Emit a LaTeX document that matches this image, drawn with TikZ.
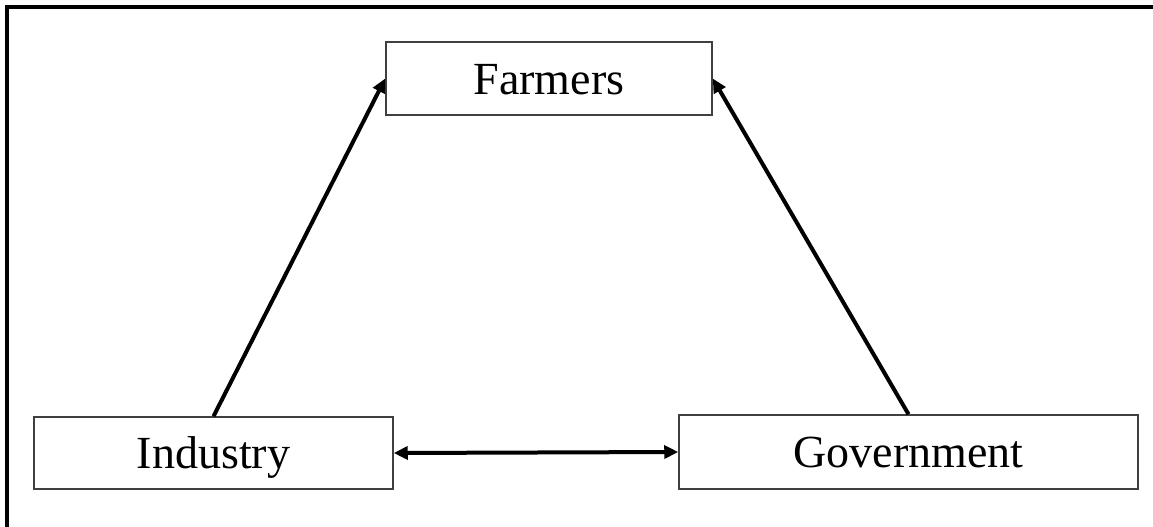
\documentclass[tikz,border=0pt]{standalone}
\usepackage{fontspec}
\setmainfont{Liberation Serif}
\usetikzlibrary{arrows.meta}
\begin{document}
\begin{tikzpicture}[x=1pt,y=-1pt,
  box/.style={draw=black!75, line width=1.5pt, fill=white, inner sep=0pt,
    font=\fontsize{46}{50}\selectfont, text height=31pt, text depth=0pt},
  tip/.style={Triangle[length=14pt,width=13pt]},
  conn/.style={line width=4pt, -{Triangle[length=14pt,width=13pt]}}]
\useasboundingbox (0,0) rectangle (1153,527);
\draw[line width=3.5pt] (7,540) -- (7,7) -- (1160,7);
\node[box, minimum width=326pt, minimum height=73pt] (farm) at (549,78.5) {Farmers};
\node[box, minimum width=359pt, minimum height=72pt] (ind) at (213.5,453) {Industry};
\node[box, minimum width=459pt, minimum height=74pt] (gov) at (908.5,452) {Government};
\draw[conn] (ind.north) -- (farm.west);
\draw[conn] (gov.north) -- (farm.east);
\draw[conn, {Triangle[length=14pt,width=13pt]}-{Triangle[length=14pt,width=13pt]}] (ind.east) -- (gov.west);
\end{tikzpicture}
\end{document}
